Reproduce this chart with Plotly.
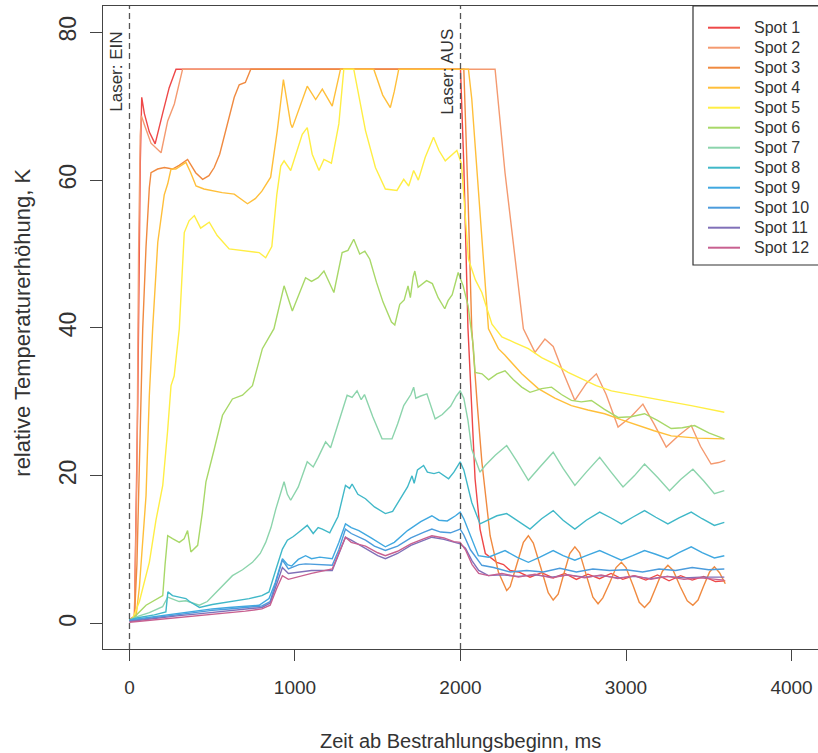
import plotly.graph_objects as go

# ---------------- data (time in ms, relative temperature rise in K) ----------------
spot_names = ["Spot 1", "Spot 2", "Spot 3", "Spot 4", "Spot 5", "Spot 6",
              "Spot 7", "Spot 8", "Spot 9", "Spot 10", "Spot 11", "Spot 12"]

t1 = [0, 30, 50, 65, 74, 90, 120, 155, 200, 240, 281, 2000, 2020, 2045, 2088, 2118, 2150, 2219, 2260, 2300,
      2350, 2420, 2490, 2560, 2630, 2700, 2770, 2840, 2910, 2980, 3050, 3120, 3190, 3260, 3330, 3400, 3470,
      3540, 3600]
y1 = [0.5, 1, 30, 62, 71.2, 69, 66.5, 64.9, 69, 72.5, 75, 75, 62, 40, 19.6, 12.8, 9.5, 8.3, 8.0, 7.2,
      7.0, 6.3, 6.9, 6.2, 6.8, 6.0, 6.7, 6.1, 6.8, 6.0, 6.5, 5.9, 6.6, 5.8, 6.5, 5.9, 6.4,
      5.7, 5.8]

t2 = [0, 30, 45, 55, 65, 72, 90, 130, 191, 231, 271, 300, 321, 2209, 2269, 2380, 2450, 2510, 2560, 2620,
      2691, 2760, 2821, 2880, 2952, 3030, 3102, 3170, 3243, 3320, 3394, 3450, 3514, 3560, 3600]
y2 = [0.5, 1, 20, 50, 66, 68.7, 67.5, 65, 63.7, 68, 70.3, 73, 75, 75, 61, 39.9, 36.7, 38.5, 37.5, 34,
      30.2, 32.5, 33.8, 31, 26.6, 28, 29.7, 27, 23.9, 25.5, 26.8, 24, 21.6, 21.8, 22.1]

t3 = [0, 30, 45, 60, 80, 100, 120, 130, 170, 211, 260, 300, 351, 400, 442, 480, 512, 545, 572, 600,
      633, 663, 700, 733, 2020, 2045, 2068, 2100, 2129, 2179, 2229, 2279, 2300, 2340, 2380, 2410, 2440,
      2485, 2530, 2560, 2590, 2625, 2660, 2691, 2720, 2761, 2800, 2831, 2860, 2901, 2940, 2972, 3000,
      3042, 3080, 3112, 3145, 3182, 3220, 3253, 3285, 3328, 3370, 3404, 3435, 3469, 3505, 3534, 3565, 3600]
y3 = [0.5, 1, 8, 21.9, 39.9, 51, 59, 61, 61.5, 61.7, 61.5, 62, 62.8, 61, 60.1, 60.6, 61.7, 63.5, 65.8, 68.5,
      71.2, 72.9, 73.2, 75, 75, 58, 39.9, 30, 21.9, 11.9, 7.0, 4.5, 5.0, 8.0, 11.0, 11.9, 10.9,
      7.6, 4.2, 3.2, 4.0, 6.8, 9.5, 10.4, 9.6, 6.5, 3.6, 2.7, 3.5, 5.5, 7.6, 8.3, 7.6,
      5.2, 2.9, 2.2, 3.0, 5.0, 7.1, 7.9, 7.2, 5.0, 3.1, 2.5, 3.2, 5.1, 7.0, 7.7, 6.9, 5.4]

t4 = [0, 40, 60, 100, 120, 140, 171, 210, 231, 251, 280, 341, 370, 402, 450, 492, 560, 633, 680, 713,
      760, 800, 853, 893, 930, 950, 974, 984, 1030, 1074, 1125, 1165, 1225, 1250, 1275, 1476, 1530, 1576,
      1600, 1627, 2048, 2068, 2129, 2169, 2229, 2269, 2370, 2470, 2570, 2670, 2770, 2871, 2970, 3072,
      3170, 3273, 3430, 3594]
y4 = [0.5, 1, 5, 17.3, 30.9, 39.9, 51.6, 58, 59.5, 61.5, 61.5, 62.4, 61, 59.2, 58.8, 58.6, 58.3, 58.1, 57.3, 56.8,
      57.5, 58.5, 60.4, 66.7, 73.6, 71, 67.6, 67.1, 70, 72.7, 70.9, 72.3, 70.0, 72.5, 75, 75, 71.5, 69.8,
      72, 75, 75, 71, 52.9, 39.9, 37.2, 36.3, 33.8, 31.8, 30.5, 29.5, 28.9, 28.4, 27.6, 26.8,
      26.1, 25.4, 25.1, 25.0]

t5 = [0, 20, 60, 120, 160, 201, 230, 251, 270, 301, 331, 360, 392, 430, 482, 530, 602, 680, 783, 823,
      860, 890, 914, 934, 974, 1044, 1074, 1104, 1145, 1175, 1220, 1265, 1295, 1355, 1426, 1486, 1546,
      1616, 1657, 1687, 1717, 1745, 1787, 1837, 1870, 1908, 1978, 2006, 2030, 2048, 2090, 2129, 2190,
      2250, 2330, 2410, 2490, 2570, 2650, 2731, 2820, 2912, 3030, 3153, 3270, 3394, 3500, 3594]
y5 = [0.5, 0.7, 3, 8.3, 14, 18.7, 26, 32.2, 33.5, 39.9, 52.9, 54.5, 55.2, 53.5, 54.3, 52.5, 50.7, 50.5, 50.2, 49.5,
      51, 58, 61.9, 62.6, 61.3, 66.2, 67.1, 63.5, 61.3, 62.8, 62.3, 67.6, 75, 75, 66.7, 61.7, 58.8,
      58.6, 60.1, 59.2, 61.3, 60, 63.1, 65.8, 64, 62.6, 64.0, 62.2, 55, 49.3, 46.5, 44.8, 40.5,
      38.8, 38, 37.2, 36, 35.1, 34, 33.1, 32.2, 31.5, 31.0, 30.4, 30.0, 29.5, 29.0, 28.6]

t6 = [0, 20, 100, 201, 215, 231, 260, 301, 330, 351, 371, 412, 440, 462, 512, 562, 622, 683, 743, 803,
      873, 934, 984, 1030, 1064, 1100, 1140, 1175, 1235, 1285, 1320, 1355, 1391, 1422, 1452, 1492, 1532,
      1583, 1603, 1633, 1660, 1683, 1697, 1714, 1724, 1744, 1795, 1830, 1865, 1905, 1925, 1950, 1986,
      2016, 2046, 2077, 2088, 2130, 2170, 2220, 2269, 2320, 2370, 2420, 2490, 2550, 2610, 2670, 2730,
      2791, 2870, 2952, 3030, 3112, 3190, 3273, 3340, 3414, 3500, 3594]
y6 = [0.5, 0.7, 2.5, 3.8, 8, 11.9, 11.5, 11.0, 11.5, 12.6, 9.7, 10.6, 15, 19.2, 23.6, 28.2, 30.4, 30.9, 32.2, 37.2,
      39.9, 45.7, 42.3, 45, 46.8, 46.3, 46.8, 47.7, 44.8, 50.2, 50.5, 52.0, 50.0, 50.4, 49.3, 46.2, 43.5,
      40.8, 40.4, 43.2, 43.8, 45.7, 44.1, 46.9, 47.7, 45.5, 46.4, 46, 44.1, 42.6, 43.7, 44.5, 47.5,
      45.7, 43.0, 37.6, 34.0, 33.8, 33.0, 33.8, 34.2, 33.0, 32.0, 31.3, 31.8, 32.0, 31.0, 30.2, 30.0,
      30.2, 29.0, 27.9, 28.0, 28.4, 27.5, 26.4, 26.5, 26.8, 25.8, 25.0]

t7 = [0, 50, 120, 200, 231, 300, 341, 380, 422, 470, 520, 570, 622, 683, 743, 790, 823, 855, 884, 934,
      954, 974, 1020, 1074, 1110, 1140, 1185, 1215, 1260, 1315, 1345, 1375, 1400, 1420, 1470, 1526, 1586,
      1620, 1657, 1700, 1717, 1730, 1760, 1797, 1847, 1890, 1940, 1975, 1998, 2020, 2045, 2068, 2118,
      2149, 2210, 2279, 2340, 2410, 2480, 2560, 2620, 2691, 2760, 2841, 2910, 2982, 3050, 3112, 3190,
      3263, 3330, 3404, 3470, 3534, 3594]
y7 = [0.5, 1, 1.5, 2.3, 3.6, 3.0, 3.1, 2.8, 2.5, 3.0, 4.2, 5.3, 6.5, 7.3, 8.3, 9.5, 11.0, 13, 15.5, 19.2,
      17.5, 16.7, 18.5, 21.9, 21.2, 22.5, 24.6, 23.8, 27, 30.9, 30.6, 31.5, 30.3, 31, 28, 25.0, 25.0,
      27, 29.5, 31, 32.0, 30.5, 30.8, 31.1, 27.7, 28.3, 29.4, 30.8, 31.5, 30.5, 27.5, 23.6, 20.5,
      21.4, 22.8, 24.1, 22, 19.4, 21.2, 23.2, 21, 18.7, 20.5, 22.5, 20.5, 18.5, 20, 21.6, 19.8,
      18.0, 19.5, 20.9, 19.3, 17.6, 18.0]

t8 = [0, 50, 150, 220, 232, 260, 300, 341, 363, 423, 500, 582, 650, 723, 800, 843, 880, 924, 954, 990,
      1030, 1074, 1110, 1140, 1165, 1210, 1260, 1305, 1330, 1345, 1380, 1426, 1480, 1546, 1590, 1640,
      1680, 1707, 1720, 1740, 1777, 1800, 1840, 1870, 1900, 1928, 1960, 1998, 2020, 2045, 2068, 2118,
      2160, 2220, 2279, 2350, 2420, 2490, 2560, 2620, 2691, 2760, 2841, 2910, 2972, 3040, 3112, 3180,
      3253, 3320, 3394, 3460, 3534, 3594]
y8 = [0.5, 0.8, 1.2, 1.6, 4.3, 3.8, 3.6, 3.4, 3.0, 2.2, 2.6, 2.9, 3.1, 3.4, 3.8, 4.3, 7, 10.1, 11.3, 11.8,
      12.5, 13.3, 12.2, 13.0, 12.8, 12.3, 14.5, 18.7, 18.3, 18.9, 17.5, 16.9, 15.8, 14.9, 15.2, 17,
      18.5, 20.0, 19, 20.8, 21.4, 20.5, 20.3, 20.5, 20.0, 19.6, 20.5, 21.9, 20.8, 18.5, 16.4, 13.5,
      14.0, 14.6, 14.9, 13.8, 12.8, 14.2, 15.3, 14.0, 12.8, 14.0, 15.1, 14.3, 13.5, 14.4, 15.3, 14.4,
      13.5, 14.3, 15.1, 14.2, 13.3, 13.7]

t9 = [0, 100, 200, 300, 400, 500, 600, 700, 783, 843, 880, 924, 954, 980, 1020, 1064, 1100, 1150, 1225,
      1265, 1305, 1340, 1386, 1460, 1546, 1600, 1680, 1760, 1827, 1870, 1920, 1970, 1998, 2020, 2060,
      2108, 2169, 2269, 2340, 2410, 2480, 2560, 2620, 2691, 2760, 2841, 2910, 2972, 3040, 3112, 3180,
      3253, 3320, 3394, 3460, 3534, 3594]
y9 = [0.5, 0.8, 1.2, 1.5, 1.7, 2.0, 2.2, 2.4, 2.5, 3.4, 5.5, 8.8, 8.0, 7.8, 8.7, 9.2, 8.8, 9.0, 8.8,
      11, 13.5, 13.0, 12.6, 11.6, 10.4, 11.0, 12.6, 13.8, 14.6, 14.0, 13.9, 14.6, 15.1, 14.2, 12.0,
      9.2, 9.0, 9.9, 9.0, 8.3, 9.0, 9.9, 9.2, 8.6, 9.2, 9.9, 9.2, 8.6, 9.2, 9.9, 9.4,
      8.8, 9.6, 10.4, 9.6, 8.9, 9.2]

t10 = [0, 100, 200, 300, 400, 500, 600, 700, 800, 850, 890, 924, 960, 1024, 1064, 1150, 1225, 1265, 1305,
       1340, 1426, 1480, 1546, 1620, 1700, 1780, 1827, 1880, 1940, 1998, 2020, 2060, 2129, 2200, 2300,
       2400, 2500, 2600, 2700, 2800, 2900, 3000, 3100, 3200, 3300, 3400, 3500, 3594]
y10 = [0.4, 0.7, 1.0, 1.3, 1.5, 1.8, 2.0, 2.2, 2.4, 3.0, 6, 8.6, 7.4, 8.0, 8.1, 8.0, 7.9, 10, 12.8,
       12.2, 11.3, 10.5, 9.9, 10.5, 11.6, 12.4, 12.8, 12.4, 12.3, 12.8, 12.0, 10.0, 7.9, 7.6, 7.0,
       7.2, 7.0, 7.5, 7.0, 7.4, 7.2, 7.3, 7.0, 7.4, 7.2, 7.6, 7.3, 7.4]

t11 = [0, 100, 200, 300, 400, 500, 600, 700, 800, 850, 890, 924, 960, 1024, 1100, 1225, 1265, 1305, 1340,
       1426, 1500, 1546, 1620, 1700, 1780, 1827, 1900, 1960, 1998, 2030, 2070, 2110, 2169, 2250, 2350,
       2450, 2550, 2650, 2750, 2850, 2950, 3050, 3150, 3250, 3350, 3450, 3594]
y11 = [0.3, 0.6, 0.9, 1.1, 1.3, 1.5, 1.7, 2.0, 2.2, 2.8, 5.5, 7.6, 6.8, 7.0, 7.2, 7.2, 9.5, 11.7, 11.3,
       10.2, 9.2, 8.8, 9.5, 10.6, 11.3, 11.7, 11.4, 11.0, 10.8, 10.2, 8.5, 7.2, 6.5, 6.6, 6.4,
       6.6, 6.3, 6.6, 6.3, 6.5, 6.2, 6.4, 6.1, 6.4, 6.2, 6.3, 6.3]

t12 = [0, 100, 200, 300, 400, 500, 600, 700, 800, 850, 890, 924, 960, 1024, 1100, 1225, 1265, 1305, 1340,
       1426, 1500, 1546, 1620, 1700, 1780, 1827, 1900, 1960, 1998, 2030, 2070, 2110, 2169, 2250, 2350,
       2450, 2550, 2650, 2750, 2850, 2950, 3050, 3150, 3250, 3350, 3450, 3594]
y12 = [0.2, 0.4, 0.7, 0.9, 1.1, 1.3, 1.5, 1.7, 2.0, 2.5, 4.8, 6.5, 6.0, 6.4, 6.8, 7.4, 9.5, 11.7, 11.0,
       10.5, 9.6, 9.2, 9.8, 10.8, 11.5, 11.9, 11.6, 11.1, 11.0, 10.0, 8.0, 6.8, 6.5, 6.8, 6.3,
       6.7, 6.2, 6.6, 6.2, 6.6, 6.1, 6.5, 6.0, 6.4, 6.0, 6.2, 5.9]

series_t = [t1, t2, t3, t4, t5, t6, t7, t8, t9, t10, t11, t12]
series_y = [y1, y2, y3, y4, y5, y6, y7, y8, y9, y10, y11, y12]

colors = ["#EE4848", "#F49A70", "#F08A40", "#FFBF3A", "#FFEE44", "#A8D868",
          "#8CD4AC", "#40B8C8", "#40A8E0", "#4C9CDC", "#8070B8", "#C86090"]

laser_times = [0, 2000]
laser_labels = ["Laser: EIN", "Laser: AUS"]

x_ticks = [0, 1000, 2000, 3000, 4000]
y_ticks = [0, 20, 40, 60, 80]

FONT = "Liberation Sans, Arial, sans-serif"
AX = "#444444"
TXT = "#333333"

# page geometry of the plotting area (pixels)
W, H = 818, 753
ML, MT, MB = 103, 6, 104
PW, PH = W - ML, H - MT - MB


def px2paper_x(px):
    return (px - ML) / PW


def py2paper_y(py):
    return (H - MB - py) / PH


fig = go.Figure()
for name, tx, ty, c in zip(spot_names, series_t, series_y, colors):
    fig.add_trace(go.Scatter(x=tx, y=ty, mode="lines", name=name,
                             line=dict(color=c, width=1.4), showlegend=False))

for lt in laser_times:
    fig.add_shape(type="line", xref="x", yref="paper", x0=lt, x1=lt, y0=0, y1=1,
                  line=dict(color="#555555", width=1.3, dash="6px,4px"))

# laser labels (rotated)
for lt, lab in zip(laser_times, laser_labels):
    fig.add_annotation(x=lt - 78, y=74.6, xref="x", yref="y", text=lab, showarrow=False,
                       textangle=-90, xanchor="center", yanchor="middle",
                       font=dict(family=FONT, size=17, color=TXT))

# axis titles
fig.add_annotation(x=0.5, y=py2paper_y(741), xref="paper", yref="paper", yanchor="middle",
                   text="Zeit ab Bestrahlungsbeginn, ms", showarrow=False,
                   font=dict(family=FONT, size=20, color=TXT))
fig.add_annotation(x=px2paper_x(21.7), y=py2paper_y(323), xref="paper", yref="paper",
                   xanchor="center", yanchor="middle",
                   text="relative Temperaturerhöhung, K", showarrow=False, textangle=-90,
                   font=dict(family=FONT, size=22, color=TXT))

# legend box drawn in the top-right corner
fig.add_shape(type="rect", xref="paper", yref="paper",
              x0=px2paper_x(693), x1=px2paper_x(830), y0=py2paper_y(265), y1=py2paper_y(6),
              line=dict(color="#333333", width=1.2), fillcolor="white", layer="above")
for i, (name, c) in enumerate(zip(spot_names, colors)):
    ry = py2paper_y(27.7 + 20 * i)
    fig.add_shape(type="line", xref="paper", yref="paper",
                  x0=px2paper_x(708), x1=px2paper_x(740), y0=ry, y1=ry,
                  line=dict(color=c, width=2), layer="above")
    fig.add_annotation(x=px2paper_x(752), y=ry, xref="paper", yref="paper",
                       xanchor="left", yanchor="middle", text=name, showarrow=False,
                       font=dict(family=FONT, size=16, color=TXT))

fig.update_layout(
    width=W, height=H,
    margin=dict(l=ML, r=0, t=MT, b=MB),
    paper_bgcolor="white", plot_bgcolor="white",
    font=dict(family=FONT, size=19, color=TXT),
    showlegend=False,
    xaxis=dict(range=[-160, 4160], tickvals=x_ticks, ticktext=[str(v) for v in x_ticks],
               automargin=False,
               showgrid=False, zeroline=False, showline=True, mirror=True,
               linecolor=AX, linewidth=1, ticks="outside", ticklen=11, tickcolor=AX,
               ticklabelstandoff=10, tickfont=dict(family=FONT, size=19, color=TXT)),
    yaxis=dict(range=[-3.42, 83.55], tickvals=y_ticks, ticktext=[str(v) for v in y_ticks],
               automargin=False,
               showgrid=False, zeroline=False, showline=True, mirror=True,
               linecolor=AX, linewidth=1, ticks="outside", ticklen=12, tickcolor=AX,
               tickangle=-90, ticklabelstandoff=5,
               tickfont=dict(family=FONT, size=23, color=TXT)),
)

# remove the browser's default page margin so the figure sits at the window origin
fig.write_html("out.html", config={"displayModeBar": False},
               post_script="document.body.style.margin='0';document.body.style.padding='0';")
